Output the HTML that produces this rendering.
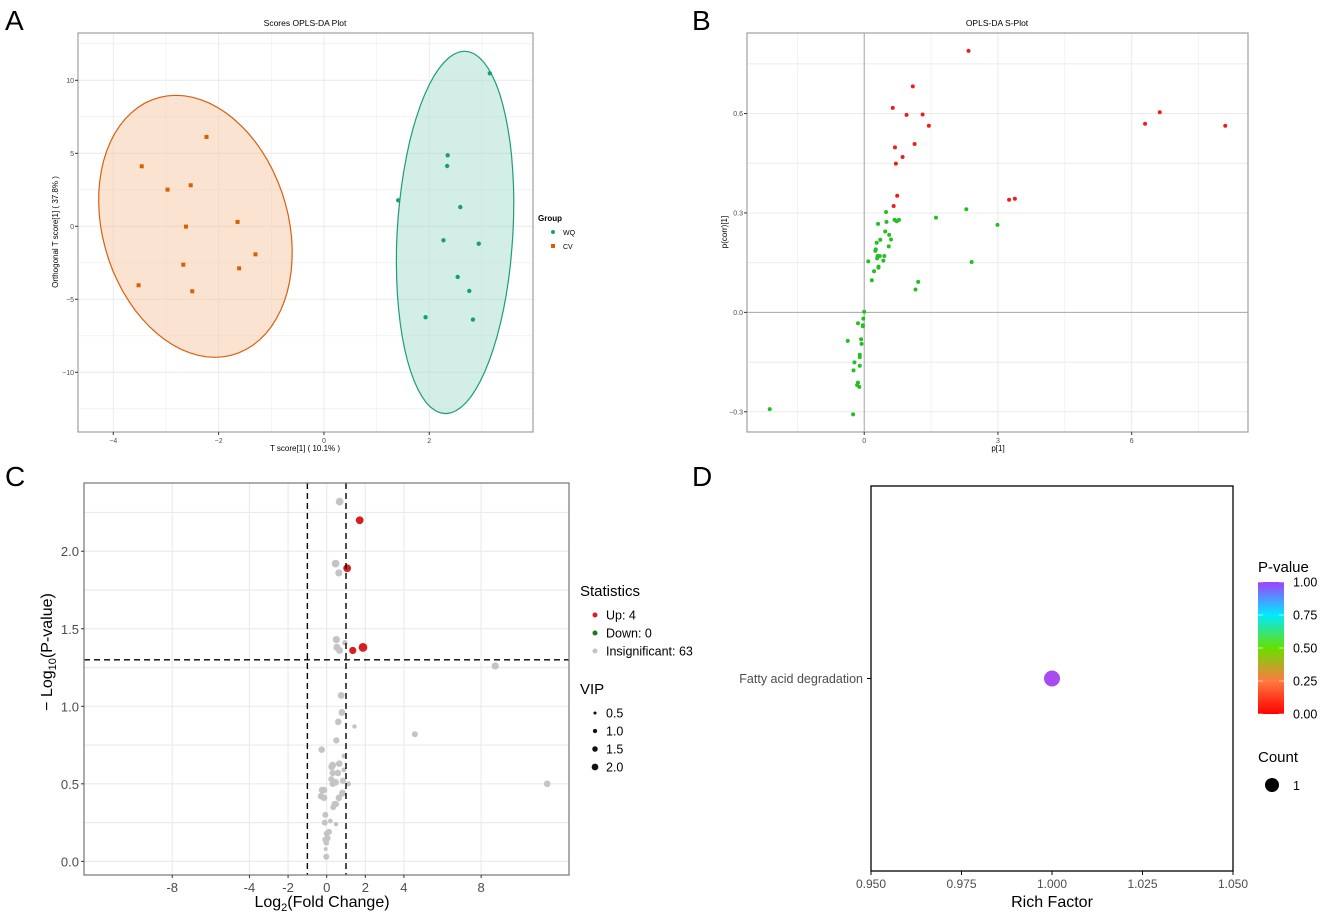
<!DOCTYPE html>
<html><head><meta charset="utf-8">
<style>
html,body{margin:0;padding:0;background:#fff;}
body{width:1325px;height:915px;overflow:hidden;font-family:"Liberation Sans",sans-serif;}
svg text{font-family:"Liberation Sans",sans-serif;}
</style></head>
<body>
<svg id="fig" width="1325" height="915" viewBox="0 0 1325 915" xmlns="http://www.w3.org/2000/svg">
<defs>
<linearGradient id="pgrad" x1="0" y1="1" x2="0" y2="0">
<stop offset="0" stop-color="#ff0000"/>
<stop offset="0.25" stop-color="#ff7a40"/>
<stop offset="0.5" stop-color="#66e000"/>
<stop offset="0.75" stop-color="#00eaff"/>
<stop offset="1" stop-color="#a040ff"/>
</linearGradient>
</defs>
<text x="5" y="30" font-size="28">A</text>
<text x="692" y="30" font-size="28">B</text>
<text x="5" y="486" font-size="28">C</text>
<text x="692" y="486" font-size="28">D</text>
<g id="pa"></g>
<g id="pb"></g>
<g id="pc"></g>
<g id="pd"></g>
</svg>
<script>
// ---------- Panel A data ----------
const cvX=[-3.46,-2.23,-2.97,-2.53,-2.62,-1.64,-1.30,-1.61,-2.67,-3.52,-2.50];
const cvY=[4.11,6.12,2.51,2.81,-0.02,0.30,-1.92,-2.88,-2.63,-4.04,-4.45];
const wqX=[3.15,2.35,2.34,1.41,2.59,2.27,2.94,2.54,2.76,1.93,2.83];
const wqY=[10.48,4.86,4.13,1.78,1.32,-0.96,-1.19,-3.47,-4.43,-6.23,-6.39];
const aXTicks=[-4,-2,0,2];
const aYTicks=[-10,-5,0,5,10];
// ---------- Panel B data ----------
const upP=[2.34,1.09,0.64,0.95,1.31,1.45,6.30,6.63,8.10,0.69,1.13,0.86,0.71,0.74,0.66,3.25,3.38];
const upCorr=[0.789,0.682,0.617,0.596,0.597,0.563,0.569,0.604,0.563,0.498,0.508,0.469,0.449,0.352,0.321,0.340,0.343];
const otherP=[0.49,0.68,0.78,0.73,0.50,0.31,1.61,2.29,2.99,0.47,0.56,0.36,0.60,0.28,0.55,0.26,0.25,0.30,0.35,0.45,0.29,0.09,0.43,0.32,0.32,2.41,0.22,0.17,1.21,1.15,0.0,-0.02,-0.14,-0.03,-0.03,-0.37,-0.07,-0.06,-0.10,-0.10,-0.22,-0.10,-0.24,-0.14,-0.16,-0.11,-2.12,-0.25];
const otherCorr=[0.303,0.279,0.279,0.275,0.273,0.267,0.286,0.311,0.264,0.244,0.234,0.219,0.220,0.210,0.199,0.190,0.186,0.170,0.170,0.170,0.163,0.154,0.156,0.138,0.135,0.152,0.124,0.097,0.092,0.069,0.002,-0.019,-0.033,-0.039,-0.042,-0.086,-0.081,-0.095,-0.128,-0.135,-0.151,-0.161,-0.175,-0.212,-0.219,-0.225,-0.292,-0.308];
const bXTicks=[0,3,6];
const bYTicks=[-0.3,0,0.3,0.6];
// ---------- Panel C data ----------
const upFC=[1.71,1.06,1.35,1.88];
const upLogP=[2.20,1.89,1.36,1.38];
const upVIP=[1.8,1.8,1.6,2.1];
const insFC=[0.67,0.46,0.63,0.50,0.94,0.53,0.67,8.73,0.75,0.79,1.44,4.57,0.60,0.50,-0.26,0.89,0.65,0.31,0.26,0.89,0.31,0.58,0.24,0.84,0.46,0.31,1.13,11.42,-0.24,-0.14,0.82,-0.29,-0.14,0.63,0.41,0.48,0.34,-0.07,-0.10,0.19,0.48,0.12,0.0,0.05,-0.07,-0.02,-0.05,-0.02];
const insLogP=[2.32,1.92,1.86,1.43,1.41,1.38,1.36,1.26,1.07,0.96,0.87,0.82,0.90,0.78,0.72,0.68,0.63,0.62,0.61,0.59,0.57,0.57,0.53,0.52,0.51,0.50,0.50,0.50,0.46,0.46,0.44,0.42,0.41,0.41,0.37,0.37,0.35,0.30,0.25,0.26,0.24,0.19,0.18,0.15,0.14,0.12,0.08,0.03];
const insVIP=[1.8,1.8,1.6,1.6,1.0,1.6,1.5,1.6,1.5,1.5,0.7,1.2,1.4,1.3,1.4,0.8,1.4,1.5,1.5,0.8,1.3,1.4,1.2,1.3,1.5,1.3,0.9,1.4,1.4,1.4,1.5,1.4,1.4,1.4,1.3,1.3,1.2,1.2,1.2,0.8,0.7,1.2,1.2,1.2,1.2,1.1,0.5,1.2];
const cXTicks=[-8,-4,-2,0,2,4,8];
const cYTicks=[0,0.5,1.0,1.5,2.0];
const vipLegend=[0.5,1.0,1.5,2.0];
// ---------- Panel D data ----------
const pathways=["Fatty acid degradation"];
const richFactor=[1.0];
const pathPValue=[1.0];
const dXTicks=[0.950,0.975,1.000,1.025,1.050];
const pLegendTicks=[0,0.25,0.5,0.75,1.0];

const NS="http://www.w3.org/2000/svg";
function mk(parent,tag,attrs,text){const e=document.createElementNS(NS,tag);for(const k in attrs)e.setAttribute(k,attrs[k]);if(text!==undefined)e.textContent=text;parent.appendChild(e);return e;}
function lin(d0,d1,r0,r1){return v=>r0+(v-d0)/(d1-d0)*(r1-r0);}

// ===== Panel A =====
(function(){
const g=document.getElementById('pa');
const L=78,R=533,T=33,B=432;
const sx=lin(-4.67,3.97,L,R), sy=lin(13.24,-14.09,T,B);
let e=mk(g,'rect',{x:L,y:T,width:R-L,height:B-T,fill:'#fff'});


for(let v=-4;v<=3;v++){const x=sx(v);e=mk(g,'line',{x1:x,x2:x,y1:T,y2:B,stroke:'#ebebeb','stroke-width':v%2===0?1:0.5});

}
for(let v=-12.5;v<=12.5;v+=2.5){const y=sy(v);e=mk(g,'line',{x1:L,x2:R,y1:y,y2:y,stroke:'#ebebeb','stroke-width':(v%5===0)?1.2:0.6});

}
function ell(cx,cy,ux,uy,vx,fill,stroke,name){let d='';for(let i=0;i<=72;i++){const t=i/72*2*Math.PI;const x=cx+ux*Math.cos(t)+vx*Math.sin(t),y=cy+uy*Math.cos(t);d+=(i?'L':'M')+sx(x).toFixed(1)+','+sy(y).toFixed(1);}
const p=mk(g,'path',{d:d+'Z',fill:fill,'fill-opacity':0.5,stroke:stroke,'stroke-width':1.2});

}
ell(-2.44,0,-0.37,8.97,1.80,'#f5c8a4','#d95f0e','cv-ellipse');
ell(2.49,-0.42,0.18,12.41,1.10,'#a8dccf','#1b9e77','wq-ellipse');
cvX.forEach((x,i)=>{const r=mk(g,'rect',{x:sx(x)-2,y:sy(cvY[i])-2,width:4,height:4,fill:'#d95f02'});

});
wqX.forEach((x,i)=>{const c=mk(g,'circle',{cx:sx(x),cy:sy(wqY[i]),r:2.2,fill:'#1b9e77'});

});
e=mk(g,'rect',{x:L,y:T,width:R-L,height:B-T,fill:'none',stroke:'#a0a0a0','stroke-width':1.2});


aXTicks.forEach(v=>{const x=sx(v);mk(g,'line',{x1:x,x2:x,y1:B,y2:B+3,stroke:'#333'});
const t=mk(g,'text',{x:x,y:B+11,'font-size':7,fill:'#4d4d4d','text-anchor':'middle'},String(v).replace('-','−'));

});
aYTicks.forEach(v=>{const y=sy(v);mk(g,'line',{x1:L-3,x2:L,y1:y,y2:y,stroke:'#333'});
const t=mk(g,'text',{x:L-4,y:y+2.5,'font-size':7,fill:'#4d4d4d','text-anchor':'end'},String(v).replace('-','−'));

});
e=mk(g,'text',{x:305,y:26,'font-size':8.5,'text-anchor':'middle'},'Scores OPLS-DA Plot');


e=mk(g,'text',{x:305,y:451,'font-size':8,'text-anchor':'middle'},'T score[1] ( 10.1% )');


e=mk(g,'text',{x:0,y:0,'font-size':8,'text-anchor':'middle',transform:'translate(58,232) rotate(-90)'},'Orthogonal T score[1] ( 37.8% )');


e=mk(g,'text',{x:538,y:221,'font-size':8,'font-weight':'bold'},'Group');


e=mk(g,'circle',{cx:553,cy:232,r:2,fill:'#1b9e77'});


e=mk(g,'text',{x:563,y:235,'font-size':7},'WQ');


e=mk(g,'rect',{x:551,y:244,width:4,height:4,fill:'#d95f02'});


e=mk(g,'text',{x:563,y:249,'font-size':7},'CV');


})();

// ===== Panel B =====
(function(){
const g=document.getElementById('pb');
const L=747,R=1248,T=33,B=432;
const sx=lin(-2.63,8.61,L,R), sy=lin(0.843,-0.361,T,B);
let e;
for(let v=-1.5;v<=7.5;v+=1.5){const x=sx(v);e=mk(g,'line',{x1:x,x2:x,y1:T,y2:B,stroke:'#ebebeb','stroke-width':(v%3===0)?1.1:0.6});

}
for(let v=-0.3;v<=0.76;v+=0.15){const y=sy(v);e=mk(g,'line',{x1:L,x2:R,y1:y,y2:y,stroke:'#ebebeb','stroke-width':1});

}
e=mk(g,'line',{x1:sx(0),x2:sx(0),y1:T,y2:B,stroke:'#a8a8a8','stroke-width':1});


e=mk(g,'line',{x1:L,x2:R,y1:sy(0),y2:sy(0),stroke:'#a8a8a8','stroke-width':1});


otherP.forEach((x,i)=>{const c=mk(g,'circle',{cx:sx(x),cy:sy(otherCorr[i]),r:2,fill:'#22c020'});

});
upP.forEach((x,i)=>{const c=mk(g,'circle',{cx:sx(x),cy:sy(upCorr[i]),r:2,fill:'#f01c1c'});

});
e=mk(g,'rect',{x:L,y:T,width:R-L,height:B-T,fill:'none',stroke:'#a0a0a0','stroke-width':1.2});


bXTicks.forEach(v=>{const x=sx(v);mk(g,'line',{x1:x,x2:x,y1:B,y2:B+3,stroke:'#333'});
const t=mk(g,'text',{x:x,y:B+11,'font-size':7,fill:'#4d4d4d','text-anchor':'middle'},String(v));

});
bYTicks.forEach(v=>{const y=sy(v);mk(g,'line',{x1:L-3,x2:L,y1:y,y2:y,stroke:'#333'});
const t=mk(g,'text',{x:L-4,y:y+2.5,'font-size':7,fill:'#4d4d4d','text-anchor':'end'},v.toFixed(1).replace('-','−'));

});
e=mk(g,'text',{x:997,y:26,'font-size':8.5,'text-anchor':'middle'},'OPLS-DA S-Plot');


e=mk(g,'text',{x:998,y:451,'font-size':8,'text-anchor':'middle'},'p[1]');


e=mk(g,'text',{x:0,y:0,'font-size':8,'text-anchor':'middle',transform:'translate(727,232) rotate(-90)'},'p(corr)[1]');


})();

// ===== Panel C =====
(function(){
const g=document.getElementById('pc');
const L=84,R=569,T=483,B=875;
const sx=lin(-12.57,12.55,L,R), sy=lin(2.44,-0.088,T,B);
const rad=v=>1.2+v*1.5;
let e;
cXTicks.forEach(v=>{const x=sx(v);e=mk(g,'line',{x1:x,x2:x,y1:T,y2:B,stroke:'#ebebeb','stroke-width':1.2});

});
for(let v=0;v<=2.3;v+=0.25){const y=sy(v);e=mk(g,'line',{x1:L,x2:R,y1:y,y2:y,stroke:'#ebebeb','stroke-width':1.2});

}
insFC.forEach((x,i)=>{const c=mk(g,'circle',{cx:sx(x),cy:sy(insLogP[i]),r:rad(insVIP[i]),fill:'#c4c4c4'});

});
upFC.forEach((x,i)=>{const c=mk(g,'circle',{cx:sx(x),cy:sy(upLogP[i]),r:rad(upVIP[i]),fill:'#d81e1e'});

});
[-1,1].forEach(v=>{e=mk(g,'line',{x1:sx(v),x2:sx(v),y1:T,y2:B,stroke:'#000','stroke-width':1.4,'stroke-dasharray':'6,4'});

});
e=mk(g,'line',{x1:L,x2:R,y1:sy(1.3),y2:sy(1.3),stroke:'#000','stroke-width':1.4,'stroke-dasharray':'6,4'});


e=mk(g,'rect',{x:L,y:T,width:R-L,height:B-T,fill:'none',stroke:'#7f7f7f','stroke-width':1.3});


cXTicks.forEach(v=>{const x=sx(v);mk(g,'line',{x1:x,x2:x,y1:B,y2:B+3,stroke:'#333'});
const t=mk(g,'text',{x:x,y:B+17,'font-size':13,fill:'#4d4d4d','text-anchor':'middle'},String(v));

});
cYTicks.forEach(v=>{const y=sy(v);mk(g,'line',{x1:L-3,x2:L,y1:y,y2:y,stroke:'#333'});
const t=mk(g,'text',{x:L-5,y:y+5,'font-size':13,fill:'#4d4d4d','text-anchor':'end'},v.toFixed(1));

});
e=mk(g,'text',{x:322,y:907,'font-size':16,'text-anchor':'middle'});
e.innerHTML='Log<tspan font-size="11" dy="4">2</tspan><tspan dy="-4">(Fold Change)</tspan>';


e=mk(g,'text',{x:0,y:0,'font-size':16,'text-anchor':'middle',transform:'translate(52,652) rotate(-90)'});
e.innerHTML='− Log<tspan font-size="11" dy="4">10</tspan><tspan dy="-4">(P-value)</tspan>';


e=mk(g,'text',{x:580,y:596,'font-size':15},'Statistics');


[['#e01a1a','Up: 4'],['#1a7a1a','Down: 0'],['#c4c4c4','Insignificant: 63']].forEach((it,i)=>{const y=615+i*18;
const c=mk(g,'circle',{cx:595,cy:y,r:2.5,fill:it[0]});


const t=mk(g,'text',{x:606,y:y+4.5,'font-size':12.5},it[1]);

});
e=mk(g,'text',{x:580,y:694,'font-size':15},'VIP');


vipLegend.forEach((v,i)=>{const y=713+i*18;
const c=mk(g,'circle',{cx:595,cy:y,r:rad(v)*0.8,fill:'#111'});


const t=mk(g,'text',{x:606,y:y+4.5,'font-size':12.5},v.toFixed(1));

});
})();

// ===== Panel D =====
(function(){
const g=document.getElementById('pd');
const L=871,R=1233,T=486,B=871;
const sx=lin(0.95,1.05,L,R);
const sy=i=>T+(B-T)*(i+0.5)/pathways.length;
let e=mk(g,'rect',{x:L,y:T,width:R-L,height:B-T,fill:'none',stroke:'#000','stroke-width':1.3});


dXTicks.forEach(v=>{const x=sx(v);mk(g,'line',{x1:x,x2:x,y1:B,y2:B+4,stroke:'#000'});
const t=mk(g,'text',{x:x,y:B+17,'font-size':12,fill:'#4d4d4d','text-anchor':'middle'},v.toFixed(3));

});
pathways.forEach((p,i)=>{const y=sy(i);mk(g,'line',{x1:L-4,x2:L,y1:y,y2:y,stroke:'#000'});
const t=mk(g,'text',{x:L-8,y:y+4.5,'font-size':12.5,fill:'#4d4d4d','text-anchor':'end'},p);


const c=mk(g,'circle',{cx:sx(richFactor[i]),cy:y,r:8,fill:'#a64cf0'});

});
e=mk(g,'text',{x:1052,y:907,'font-size':16,'text-anchor':'middle'},'Rich Factor');


e=mk(g,'text',{x:1258,y:572,'font-size':15},'P-value');


const cT=582,cB=714;
e=mk(g,'rect',{x:1258,y:cT,width:26,height:cB-cT,fill:'url(#pgrad)'});


const cy=lin(0,1,cB,cT);
pLegendTicks.forEach(v=>{const y=cy(v);
mk(g,'line',{x1:1258,x2:1263,y1:y,y2:y,stroke:'#fff','stroke-opacity':0.6});
mk(g,'line',{x1:1279,x2:1284,y1:y,y2:y,stroke:'#fff','stroke-opacity':0.6});
const t=mk(g,'text',{x:1293,y:y+4.5,'font-size':12.5},v.toFixed(2));

});
e=mk(g,'text',{x:1258,y:762,'font-size':15},'Count');


e=mk(g,'circle',{cx:1272,cy:785,r:7,fill:'#000'});


e=mk(g,'text',{x:1293,y:790,'font-size':12.5},'1');


})();
</script>
</body></html>
